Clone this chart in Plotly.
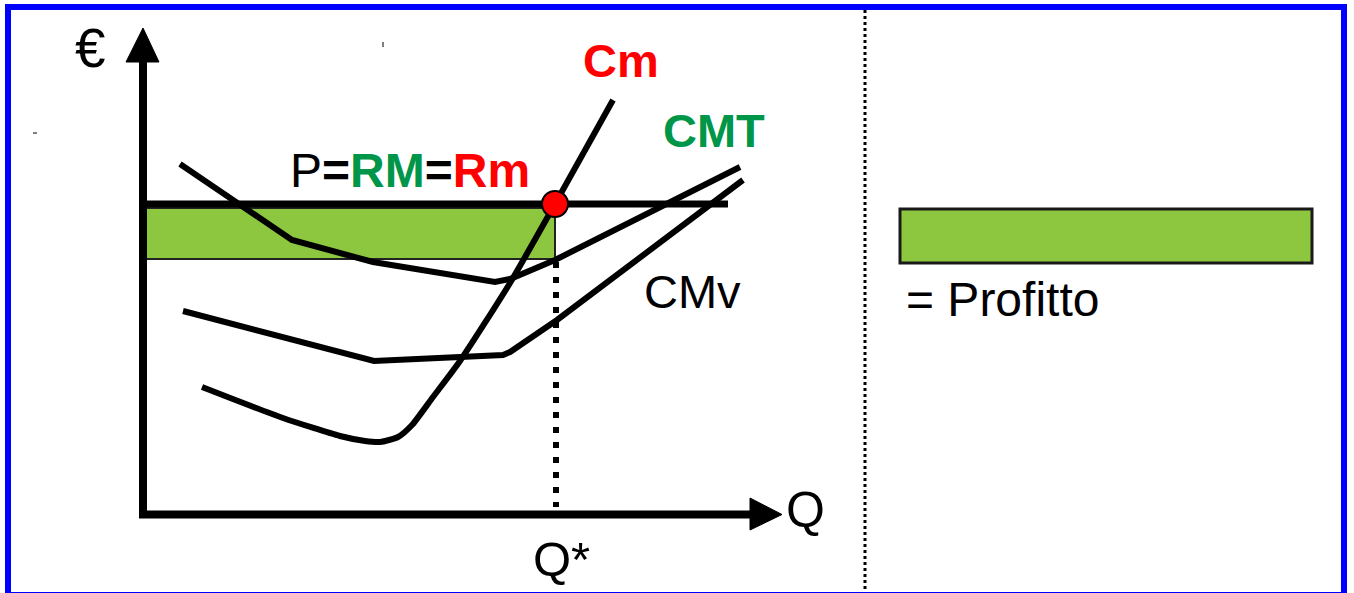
import plotly.graph_objects as go

# ---- data (diagram coordinates, pixel-like units; y grows downward) ----
cm_x = [202, 283, 340, 365, 380, 398, 412, 433, 460, 510, 555, 613]
cm_y = [387, 418, 436, 441, 442, 437, 425, 397, 361, 283, 204, 100]

cmv_x = [183, 367, 374, 503, 510, 557, 743]
cmv_y = [311, 358, 361, 355, 352, 320, 180]

cmt_x = [180, 292, 373, 485, 495, 510, 555, 740]
cmt_y = [164, 240, 262, 281, 282, 279, 260, 167]

price_y = 204
price_x = [144, 728]
q_star = 556
profit_top, profit_bottom = 208, 259

yaxis_x = [143, 143]
yaxis_y = [518, 60]
yarrow_x = [126, 143, 159, 126]
yarrow_y = [62, 28, 62, 62]
xaxis_x = [139, 752]
xaxis_y = [514.5, 514.5]
xarrow_x = [750, 782, 750, 750]
xarrow_y = [498, 514.5, 530, 498]

legend_box = dict(x0=900, x1=1312, y0=209, y1=263)
separator_x = 865

GREEN_FILL = "#8DC63F"
GREEN_TXT = "#00964A"
RED = "#FF0000"
FONT = "Liberation Sans, Arial, sans-serif"

fig = go.Figure()

# profit rectangle
fig.add_shape(type="rect", x0=price_x[0], x1=q_star - 1, y0=profit_top, y1=profit_bottom,
              fillcolor=GREEN_FILL, line=dict(color="#222222", width=2), layer="below")

# axes lines
fig.add_trace(go.Scatter(x=yaxis_x, y=yaxis_y, mode="lines", line=dict(color="black", width=8)))
fig.add_trace(go.Scatter(x=xaxis_x, y=xaxis_y, mode="lines", line=dict(color="black", width=8)))
fig.add_trace(go.Scatter(x=yarrow_x, y=yarrow_y, mode="lines", fill="toself",
                         fillcolor="black", line=dict(color="black", width=1)))
fig.add_trace(go.Scatter(x=xarrow_x, y=xarrow_y, mode="lines", fill="toself",
                         fillcolor="black", line=dict(color="black", width=1)))

# Q* dotted drop line
fig.add_trace(go.Scatter(x=[q_star, q_star], y=[262, 507], mode="lines",
                         line=dict(color="black", width=6, dash="6px,9px")))

# separator
fig.add_trace(go.Scatter(x=[separator_x, separator_x], y=[10, 593], mode="lines",
                         line=dict(color="black", width=3, dash="3px,3px")))

# price line
fig.add_trace(go.Scatter(x=price_x, y=[price_y, price_y], mode="lines",
                         line=dict(color="black", width=7)))

# cost curves
fig.add_trace(go.Scatter(x=cmt_x, y=cmt_y, mode="lines", line=dict(color="black", width=6)))
fig.add_trace(go.Scatter(x=cmv_x, y=cmv_y, mode="lines", line=dict(color="black", width=6)))
fig.add_trace(go.Scatter(x=cm_x, y=cm_y, mode="lines", line=dict(color="black", width=6, shape="spline", smoothing=0.6)))

# equilibrium point
fig.add_trace(go.Scatter(x=[q_star - 1], y=[price_y], mode="markers",
                         marker=dict(color=RED, size=26, line=dict(color="black", width=2))))

# legend box
fig.add_shape(type="rect", **legend_box, fillcolor=GREEN_FILL,
              line=dict(color="#1a1a1a", width=3))

# tiny artefact marks
fig.add_shape(type="line", x0=383, x1=383, y0=42, y1=47, line=dict(color="black", width=1))
fig.add_shape(type="line", x0=33, x1=37, y0=133, y1=133, line=dict(color="black", width=1))

# blue frame
fig.add_shape(type="rect", x0=8, x1=1344, y0=7, y1=595, line=dict(color="#0000FF", width=6))

def label(txt, x, y, size=47, color="black"):
    fig.add_annotation(x=x, y=y, xref="x", yref="y", text=txt, showarrow=False,
                       xanchor="left", yanchor="middle",
                       font=dict(family=FONT, size=size, color=color))

label("€", 73, 48, size=55)
label("Q", 784, 510, size=50)
label("Q*", 531, 559, size=49)
label("P<b>=</b><span style='color:%s'><b>RM</b></span><b>=</b><span style='color:%s'><b>Rm</b></span>" % (GREEN_TXT, RED), 288, 170, size=48)
label("<b>Cm</b>", 581, 60, color=RED)
label("<b>CMT</b>", 661, 130, color=GREEN_TXT)
label("CMv", 642, 291)
label("= Profitto", 904, 299, size=48)

fig.update_layout(
    width=1354, height=593, margin=dict(l=0, r=0, t=0, b=0),
    paper_bgcolor="white", plot_bgcolor="white", showlegend=False,
    xaxis=dict(range=[0, 1354], visible=False, fixedrange=True),
    yaxis=dict(range=[593, 0], visible=False, fixedrange=True),
)

fig.write_html("out.html", config={"displayModeBar": False},
               post_script="document.body.style.margin='0';document.body.style.overflow='hidden';")
